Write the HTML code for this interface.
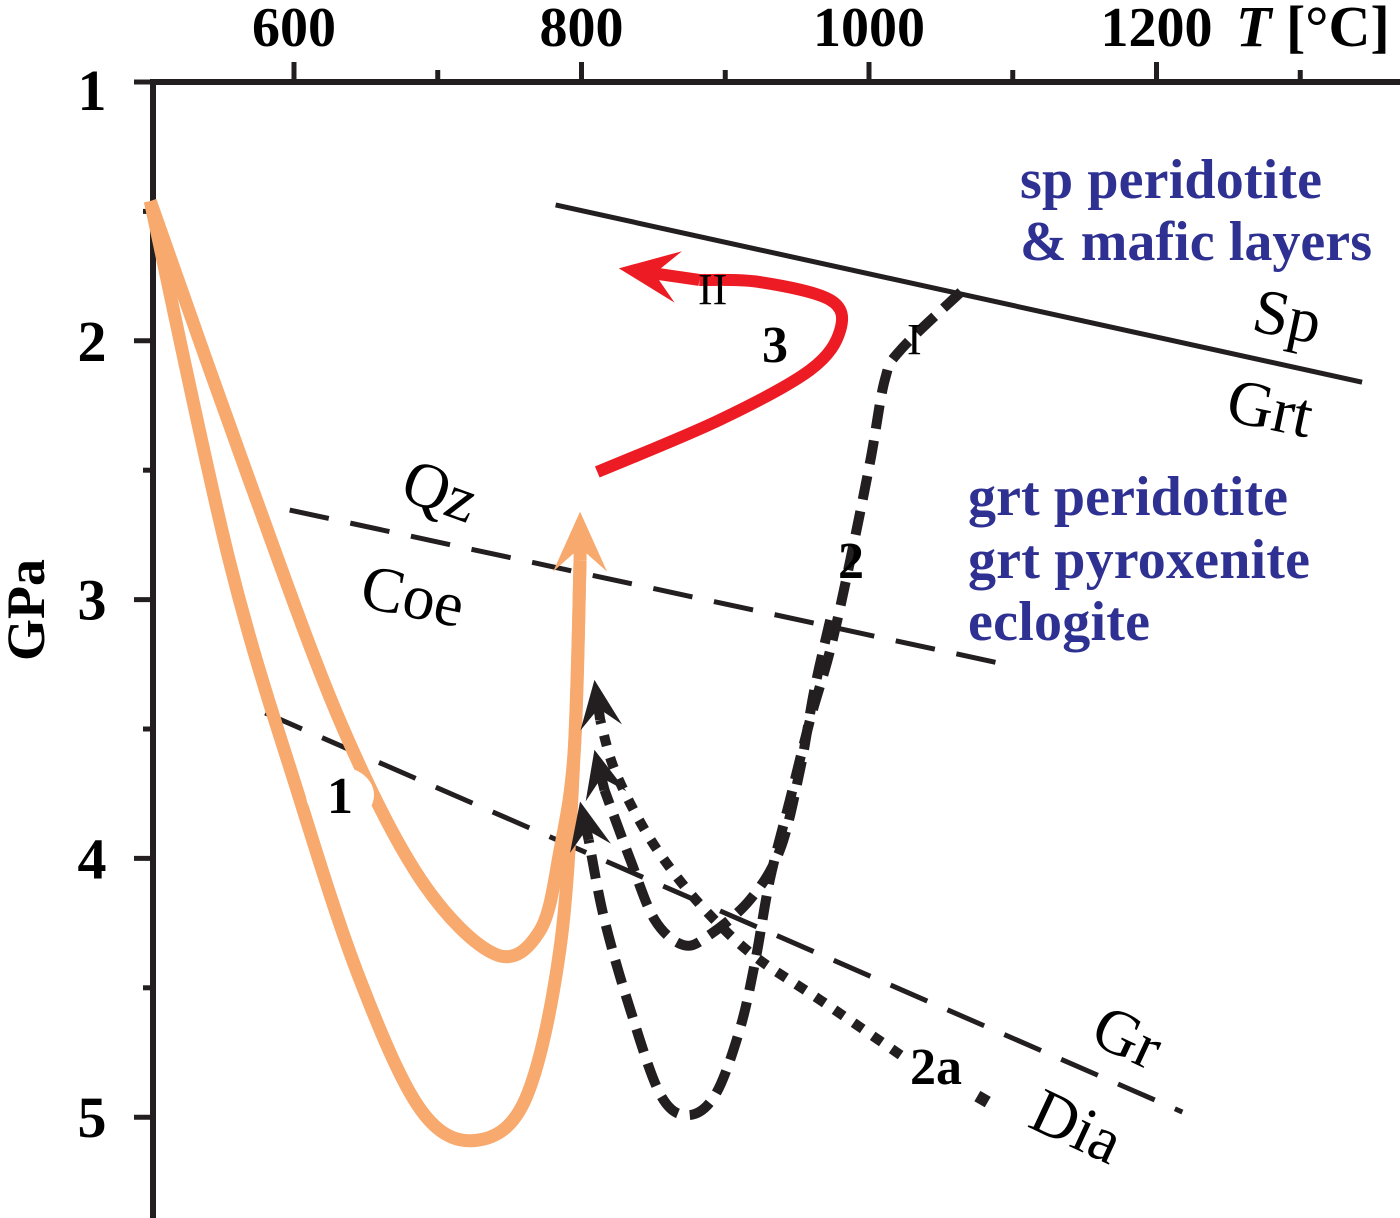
<!DOCTYPE html>
<html><head><meta charset="utf-8"><style>
html,body{margin:0;padding:0;background:#fff;}
svg{display:block;}
text{font-family:"Liberation Serif",serif;}
</style></head><body>
<svg id="chart" width="1400" height="1218" viewBox="0 0 1400 1218" xmlns="http://www.w3.org/2000/svg">
<g id="axes"></g>
<g id="marks"></g>
<g id="labels">
<text x="1236" y="46" font-size="58" font-weight="bold"><tspan font-style="italic">T</tspan> [°C]</text>
<text transform="translate(44,610) rotate(-90)" text-anchor="middle" font-size="54" font-weight="bold">GPa</text>
<text x="1020" y="198" font-size="56" font-weight="bold" fill="#2e3192" textLength="302">sp peridotite</text>
<text x="1020" y="260" font-size="56" font-weight="bold" fill="#2e3192" textLength="352">&amp; mafic layers</text>
<text x="968" y="515" font-size="56" font-weight="bold" fill="#2e3192" textLength="320">grt peridotite</text>
<text x="968" y="578" font-size="56" font-weight="bold" fill="#2e3192" textLength="342">grt pyroxenite</text>
<text x="968" y="640" font-size="56" font-weight="bold" fill="#2e3192" textLength="182">eclogite</text>
<text transform="translate(1250,330) rotate(12)" font-size="64">Sp</text>
<text transform="translate(1224,420) rotate(12)" font-size="64">Grt</text>
<text transform="translate(398,498) rotate(20)" font-size="64">Qz</text>
<text transform="translate(358,606) rotate(12)" font-size="64">Coe</text>
<text transform="translate(1088,1042) rotate(25)" font-size="64">Gr</text>
<text transform="translate(1026,1126) rotate(25)" font-size="64">Dia</text>
<text x="762" y="362" font-size="52" font-weight="bold">3</text>
<text x="698" y="304" font-size="44">II</text>
<text x="907" y="354" font-size="44">I</text>
<text x="838" y="578" font-size="52" font-weight="bold">2</text>
<text x="910" y="1084" font-size="52" font-weight="bold">2a</text>
</g>
</svg>
<script>
const xTicks=[600,700,800,900,1000,1100,1200,1300];
const xTickLabels=[600,800,1000,1200];
const yTicks=[1,1.5,2,2.5,3,3.5,4,4.5,5];
const yTickLabels=[1,2,3,4,5];
const orangeOuter=[[500,1.46],[555,2.85],[604,3.77],[646,4.47],[688,4.97],[726,5.09],[761,4.93],[785,4.35],[795,3.58],[799,2.85]];
const orangeInner=[[500,1.46],[569,2.54],[632,3.47],[688,4.08],[740,4.37],[771,4.28],[785,3.97],[795,3.58],[799,2.85]];
const orangeTip=[799,2.66];
const redPath=[[811,2.507],[896,2.306],[959,2.113],[980,1.958],[973,1.842],[924,1.773],[882,1.765]];
const redTip=[826,1.72];
const path2=[[1064,1.811],[1022,2.035],[1011,2.151],[1001,2.461],[987,2.847],[973,3.195],[959,3.465],[945,3.774],[931,4.083],[921,4.393],[910,4.663],[893,4.914],[874,4.992],[855,4.914],[834,4.586],[816,4.238],[805,3.929]];
const path2Tip=[799,3.78];
const path2b=[[973,3.079],[962,3.349],[952,3.658],[938,3.968],[917,4.161],[889,4.296],[871,4.335],[851,4.238],[834,4.006],[816,3.736]];
const path2bTip=[809,3.58];
const path2a=[[1022,4.76],[966,4.547],[924,4.393],[896,4.257],[868,4.083],[844,3.89],[823,3.658],[813,3.465]];
const path2aTip=[809,3.31];
const spLine=[[782,1.475],[1343,2.16]];
const qzLine=[[597,2.654],[1097,3.253]];
const grLine=[[580,3.438],[1218,4.98]];
const marker1=[632,3.755];

const X=T=>294+(T-600)*1.4375;
const Y=P=>82+(P-1)*258.8;
const NS="http://www.w3.org/2000/svg";
function mk(tag,attrs,parent){const e=document.createElementNS(NS,tag);for(const k in attrs)e.setAttribute(k,attrs[k]);parent.appendChild(e);return e;}
const axes=document.getElementById('axes'),marks=document.getElementById('marks');
function smooth(pts){const p=pts.map(d=>[X(d[0]),Y(d[1])]);let s=`M${p[0][0]},${p[0][1]}`;
for(let i=0;i<p.length-1;i++){const p0=p[i-1]||p[i],p1=p[i],p2=p[i+1],p3=p[i+2]||p2;
s+=` C${p1[0]+(p2[0]-p0[0])/6},${p1[1]+(p2[1]-p0[1])/6} ${p2[0]-(p3[0]-p1[0])/6},${p2[1]-(p3[1]-p1[1])/6} ${p2[0]},${p2[1]}`;}return s;}
function arrow(from,tip,len,w,color,name,sw){const x1=X(from[0]),y1=Y(from[1]),x2=X(tip[0]),y2=Y(tip[1]);
const dx=x2-x1,dy=y2-y1,L=Math.hypot(dx,dy),ux=dx/L,uy=dy/L,nx=-uy,ny=ux;
const bx=x2-ux*len,by=y2-uy*len,nbx=x2-ux*len*0.6,nby=y2-uy*len*0.6;
const sh=mk('line',{x1:x1,y1:y1,x2:nbx,y2:nby,stroke:color,'stroke-width':sw},marks);


const el=mk('polygon',{points:`${x2},${y2} ${bx+nx*w/2},${by+ny*w/2} ${nbx},${nby} ${bx-nx*w/2},${by-ny*w/2}`,fill:color},marks);

}
let a=mk('line',{x1:153,y1:82,x2:1400,y2:82,stroke:'#231f20','stroke-width':6},axes);


a=mk('line',{x1:153,y1:79,x2:153,y2:1218,stroke:'#231f20','stroke-width':6},axes);


xTicks.forEach(t=>{const big=t%200===0;const e=mk('line',{x1:X(t),y1:82,x2:X(t),y2:big?62:70,stroke:'#231f20','stroke-width':5},axes);

});
xTickLabels.forEach(t=>{const e=mk('text',{x:X(t),y:46,'text-anchor':'middle','font-size':56,'font-weight':'bold'},axes);e.textContent=t;

});
yTicks.forEach(p=>{const big=p%1===0;const e=mk('line',{x1:153,y1:Y(p),x2:big?134:143,y2:Y(p),stroke:'#231f20','stroke-width':5},axes);

});
yTickLabels.forEach(p=>{const e=mk('text',{x:92,y:Y(p)+(p===1?28:20),'text-anchor':'middle','font-size':58,'font-weight':'bold'},axes);e.textContent=p;

});
function straight(pts,dash,name,w){const e=mk('line',{x1:X(pts[0][0]),y1:Y(pts[0][1]),x2:X(pts[1][0]),y2:Y(pts[1][1]),stroke:'#231f20','stroke-width':w,'stroke-dasharray':dash},marks);

}
straight(spLine,'none','sp-grt-line',5);
straight(qzLine,'40 22','qz-coe-line',5);
straight(grLine,'40 22','gr-dia-line',5);
let e=mk('path',{d:smooth(orangeOuter),fill:'none',stroke:'#f7a96e','stroke-width':13,'stroke-linejoin':'round'},marks);


e=mk('path',{d:smooth(orangeInner),fill:'none',stroke:'#f7a96e','stroke-width':13,'stroke-linejoin':'round'},marks);


arrow(orangeOuter[orangeOuter.length-1],orangeTip,60,54,'#f7a96e','path-1-arrow',13);
e=mk('ellipse',{cx:X(marker1[0]),cy:Y(marker1[1]),rx:34,ry:28,fill:'#fff'},marks);


e=mk('text',{x:X(marker1[0]),y:Y(marker1[1])+18,'text-anchor':'middle','font-size':52,'font-weight':'bold'},marks);e.textContent='1';


e=mk('path',{d:smooth(redPath),fill:'none',stroke:'#ed1c24','stroke-width':12},marks);


arrow(redPath[redPath.length-1],redTip,60,52,'#ed1c24','path-3-arrow',12);
e=mk('path',{d:smooth(path2),fill:'none',stroke:'#231f20','stroke-width':10,'stroke-dasharray':'24 12'},marks);


arrow(path2[path2.length-1],path2Tip,48,42,'#231f20','path-2-arrow',10);
e=mk('path',{d:smooth(path2b),fill:'none',stroke:'#231f20','stroke-width':10,'stroke-dasharray':'24 12'},marks);


arrow(path2b[path2b.length-1],path2bTip,48,42,'#231f20','path-2-branch-arrow',10);
e=mk('path',{d:smooth(path2a),fill:'none',stroke:'#231f20','stroke-width':10,'stroke-dasharray':'11 12'},marks);


arrow(path2a[path2a.length-1],path2aTip,48,42,'#231f20','path-2a-arrow',10);
e=mk('rect',{x:X(1079)-6,y:Y(4.93)-6,width:12,height:12,fill:'#231f20',transform:`rotate(30 ${X(1079)} ${Y(4.93)})`},marks);


</script>
</body></html>
